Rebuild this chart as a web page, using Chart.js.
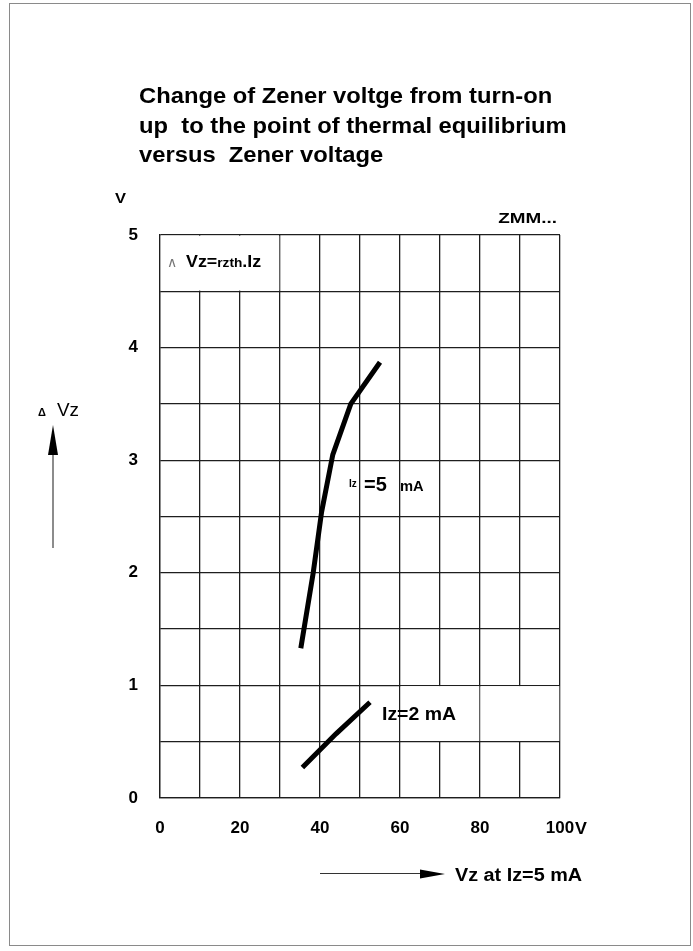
<!DOCTYPE html>
<html>
<head>
<meta charset="utf-8">
<script src="https://cdn.jsdelivr.net/npm/chart.js@4.4.1/dist/chart.umd.min.js"></script>
<style>
  html, body { margin: 0; padding: 0; background: #fff; }
  #wrap { position: relative; width: 693px; height: 951px; }
</style>
</head>
<body>
<div id="wrap"><canvas id="zenerChart"></canvas></div>
<script>
// chart text
const titleLines = ['Change of Zener voltge from turn-on', 'up  to the point of thermal equilibrium', 'versus  Zener voltage'];
const xTickValues = [0, 20, 40, 60, 80, 100];
const xTickLabels = ['0', '20', '40', '60', '80', '100'];
const yTickValues = [0, 1, 2, 3, 4, 5];
const yTickLabels = ['0', '1', '2', '3', '4', '5'];

// curves (Vz in V, delta Vz in V)
const iz5Vz  = [35.2, 38.3, 40.4, 43.2, 47.7, 55.0];
const iz5dVz = [1.33, 2.00, 2.54, 3.05, 3.50, 3.87];
const iz2Vz  = [35.6, 44.0, 52.5];
const iz2dVz = [0.27, 0.57, 0.85];

const FONT = "'Liberation Sans', Arial, sans-serif";
const GRID = '#1e1e1e';

function txt(ctx, s, x, y, size, weight, sx, color, align) {
  ctx.save();
  ctx.font = weight + ' ' + size + 'px ' + FONT;
  ctx.fillStyle = color || '#000';
  ctx.textAlign = align || 'left';
  ctx.textBaseline = 'alphabetic';
  ctx.translate(x, y);
  ctx.scale(sx || 1, 1);
  ctx.fillText(s, 0, 0);
  const w = ctx.measureText(s).width * (sx || 1);
  ctx.restore();
  return w;
}

// blank out grid cells behind the labels
function blank(ctx, x, y, x0, x1, y0, y1) {
  const l = x.getPixelForValue(x0), r = x.getPixelForValue(x1);
  const t = y.getPixelForValue(y1), b = y.getPixelForValue(y0);
  ctx.fillRect(l + 0.7, t + 0.7, r - l - 1.4, b - t - 1.4);
}

const decor = {
  id: 'decor',
  beforeDraw(chart) {
    const ctx = chart.ctx;
    ctx.save();
    ctx.strokeStyle = '#8a8a8a';
    ctx.lineWidth = 1;
    ctx.strokeRect(9.5, 3.5, 681, 942);
    ctx.restore();
  },
  beforeDatasetsDraw(chart) {
    const ctx = chart.ctx;
    const x = chart.scales.x, y = chart.scales.y;
    ctx.save();
    ctx.fillStyle = '#fff';
    blank(ctx, x, y, 0, 30, 4.5, 5);
    blank(ctx, x, y, 60, 80, 0.5, 1);
    blank(ctx, x, y, 80, 100, 0.5, 1);
    ctx.restore();
  },
  afterDraw(chart) {
    const ctx = chart.ctx;
    // title
    txt(ctx, titleLines[0], 139, 103, 22, 'bold', 1.08);
    txt(ctx, titleLines[1], 139, 133, 22, 'bold', 1.08);
    txt(ctx, titleLines[2], 139, 162, 22, 'bold', 1.08);

    txt(ctx, 'V', 115, 203, 15, 'bold', 1.1);
    txt(ctx, 'ZMM...', 557, 223, 14, 'bold', 1.35, '#000', 'right');
    // unit after the last x tick label
    txt(ctx, 'V', 575, 834, 17, 'bold', 1.05);

    // formula
    txt(ctx, '\u2227', 167, 267, 14, 'normal', 1, '#777');
    let cx = 186;
    cx += txt(ctx, 'Vz=', cx, 267, 17, 'bold', 1.05);
    cx += txt(ctx, 'rzth', cx, 267, 13, 'bold', 1.05);
    txt(ctx, '.Iz', cx, 267, 17, 'bold', 1.05);

    // curve labels
    txt(ctx, 'Iz', 349, 487, 10, 'bold', 1);
    txt(ctx, '=5', 364, 491, 20, 'bold', 1);
    txt(ctx, 'mA', 400, 491, 14, 'bold', 1.05);
    txt(ctx, 'Iz=2 mA', 382, 720, 18, 'bold', 1.08);

    // y axis arrow
    txt(ctx, '\u0394', 38, 416, 11, 'bold', 1);
    txt(ctx, 'Vz', 57, 416, 18, 'normal', 1.05);
    ctx.save();
    ctx.strokeStyle = '#8c8c8c';
    ctx.lineWidth = 2;
    ctx.beginPath(); ctx.moveTo(53, 548); ctx.lineTo(53, 452); ctx.stroke();
    ctx.fillStyle = '#000';
    ctx.beginPath(); ctx.moveTo(53, 425); ctx.lineTo(58, 455); ctx.lineTo(48, 455); ctx.closePath(); ctx.fill();
    // x axis arrow
    ctx.strokeStyle = '#333';
    ctx.lineWidth = 1;
    ctx.beginPath(); ctx.moveTo(320, 873.5); ctx.lineTo(424, 873.5); ctx.stroke();
    ctx.beginPath(); ctx.moveTo(445, 874); ctx.lineTo(420, 869.5); ctx.lineTo(420, 878.5); ctx.closePath(); ctx.fill();
    ctx.restore();
    txt(ctx, 'Vz at Iz=5 mA', 455, 881, 18, 'bold', 1.1);
  }
};

const ctx = document.getElementById('zenerChart').getContext('2d');

new Chart(ctx, {
  type: 'line',
  data: {
    datasets: [
      {
        label: 'Iz=5 mA',
        data: iz5Vz.map((v, i) => ({ x: v, y: iz5dVz[i] })),
        borderColor: '#000',
        borderWidth: 5,
        pointRadius: 0,
        tension: 0,
        fill: false
      },
      {
        label: 'Iz=2 mA',
        data: iz2Vz.map((v, i) => ({ x: v, y: iz2dVz[i] })),
        borderColor: '#000',
        borderWidth: 5,
        pointRadius: 0,
        tension: 0,
        fill: false
      }
    ]
  },
  options: {
    responsive: true,
    maintainAspectRatio: false,
    animation: false,
    events: [],
    layout: { padding: { top: 235, left: 0, right: 133, bottom: 0 } },
    plugins: {
      legend: { display: false },
      title: { display: false },
      tooltip: { enabled: false }
    },
    scales: {
      x: {
        type: 'linear',
        min: 0,
        max: 100,
        afterFit(s) { s.height = 153; },
        grid: { color: GRID, lineWidth: 1.3, drawTicks: false },
        border: { display: true, color: GRID, width: 1.3 },
        ticks: {
          stepSize: 10,
          autoSkip: false,
          maxRotation: 0,
          padding: 20,
          color: '#000',
          font: { family: FONT, size: 17, weight: 'bold' },
          callback: (v) => {
            const i = xTickValues.indexOf(v);
            return i >= 0 ? xTickLabels[i] : '';
          }
        }
      },
      y: {
        min: 0,
        max: 5,
        afterFit(s) { s.width = 160; },
        grid: { color: GRID, lineWidth: 1.3, drawTicks: false },
        border: { display: true, color: GRID, width: 1.3 },
        ticks: {
          stepSize: 0.5,
          autoSkip: false,
          padding: 22,
          color: '#000',
          font: { family: FONT, size: 17, weight: 'bold' },
          callback: (v) => {
            const i = yTickValues.indexOf(v);
            return i >= 0 ? yTickLabels[i] : '';
          }
        }
      }
    }
  },
  plugins: [decor]
});
</script>
</body>
</html>
